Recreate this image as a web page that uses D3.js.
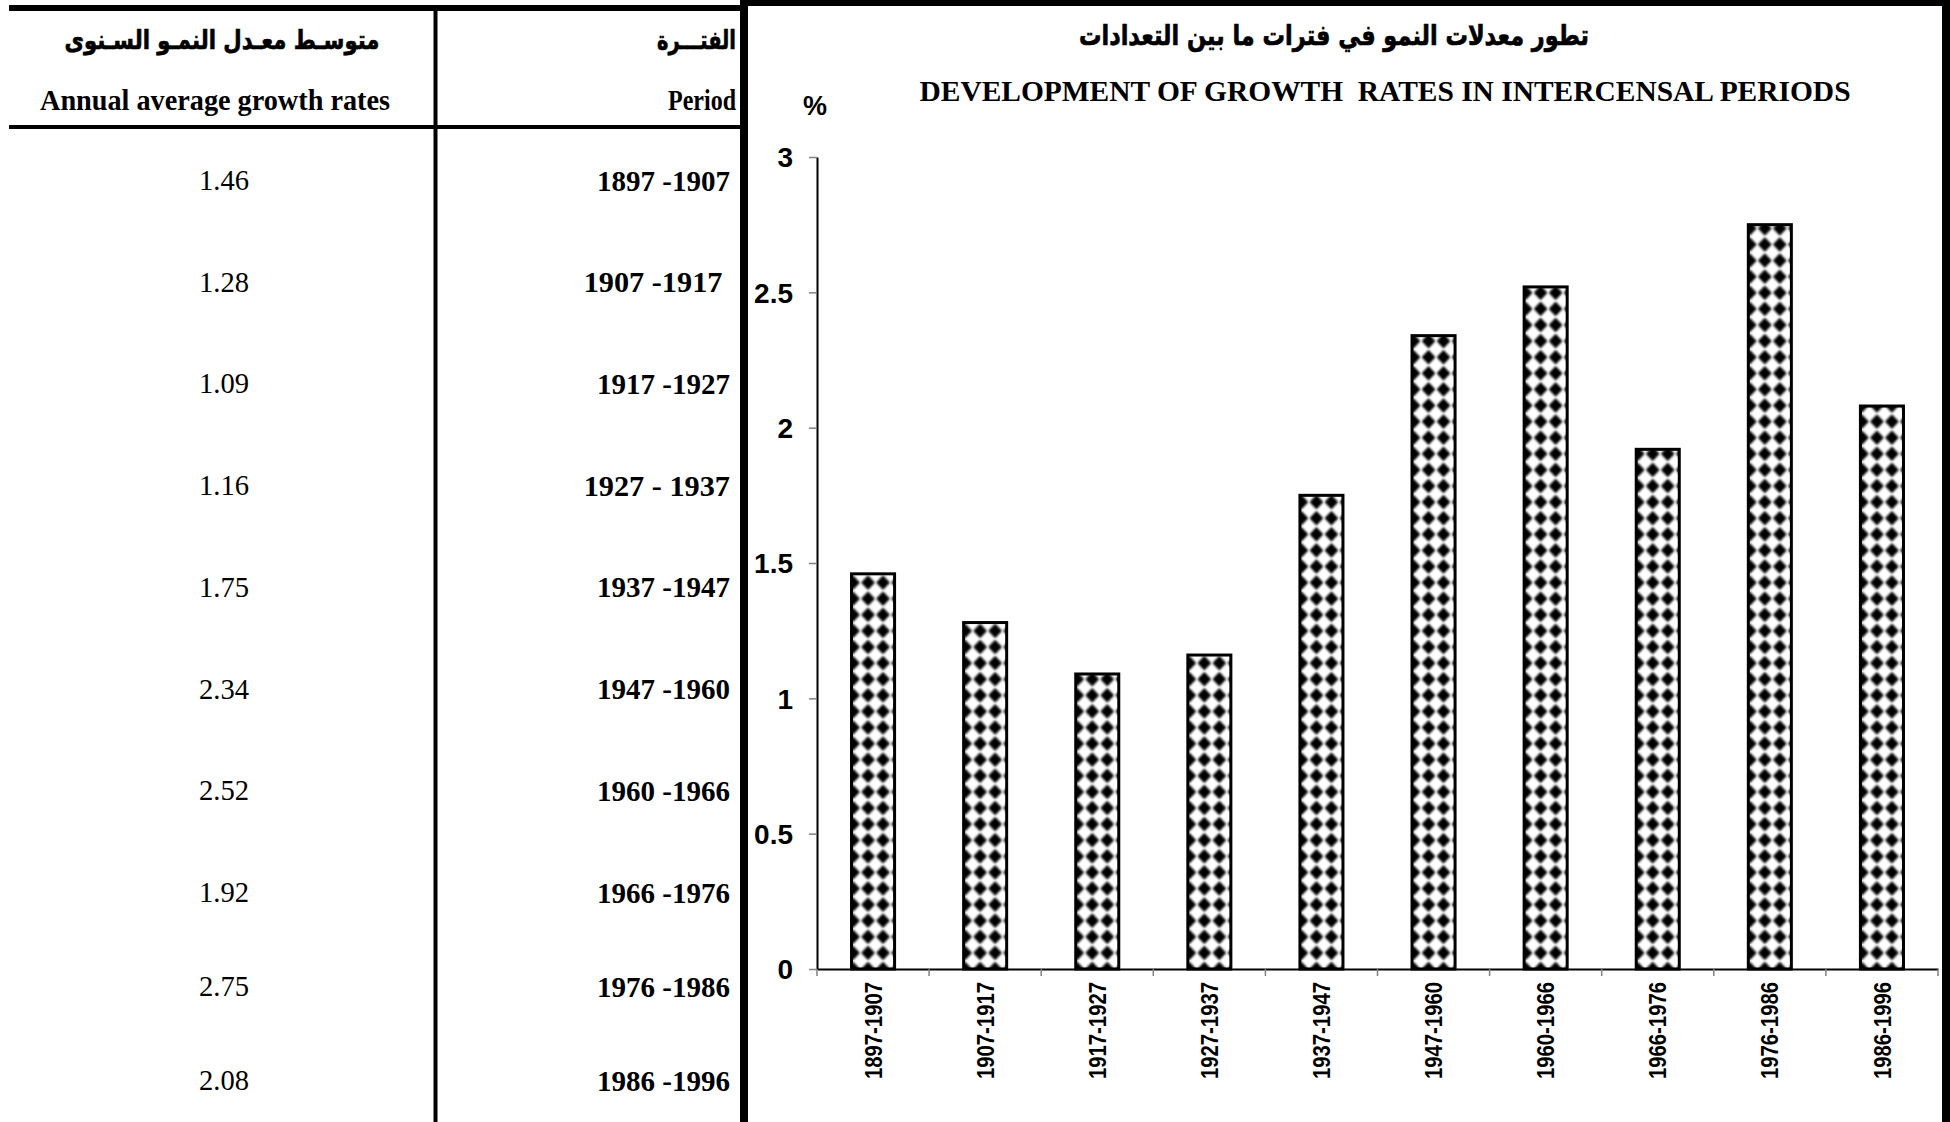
<!DOCTYPE html>
<html>
<head>
<meta charset="utf-8">
<script src="https://cdn.jsdelivr.net/npm/d3@7/dist/d3.min.js"></script>
<style>
  html, body { margin: 0; padding: 0; background: #fff; }
  svg { display: block; }
  .serif { font-family: 'Liberation Serif', 'Times New Roman', serif; }
  .sans { font-family: 'Liberation Sans', Arial, sans-serif; }
  .arabic { font-family: 'DejaVu Sans', sans-serif; font-weight: bold; stroke: #000; stroke-width: 0.7; }
</style>
</head>
<body>
<div id="chart"></div>
<script>
// chart data
const periods = ['1897-1907', '1907-1917', '1917-1927', '1927-1937', '1937-1947',
  '1947-1960', '1960-1966', '1966-1976', '1976-1986', '1986-1996'];
const rates = [1.46, 1.28, 1.09, 1.16, 1.75, 2.34, 2.52, 1.92, 2.75, 2.08];
const yTicks = [0, 0.5, 1, 1.5, 2, 2.5, 3];

// table column text (as written in the side table)
const tablePeriods = ['1897 -1907', '1907 -1917 ', '1917 -1927', '1927 - 1937', '1937 -1947',
  '1947 -1960', '1960 -1966', '1966 -1976', '1976 -1986', '1986 -1996'];
const tableRates = ['1.46', '1.28', '1.09', '1.16', '1.75', '2.34', '2.52', '1.92', '2.75', '2.08'];

const titleAr = 'تطور معدلات النمو في فترات ما بين التعدادات';
const titleEn = 'DEVELOPMENT OF GROWTH  RATES IN INTERCENSAL PERIODS';
const headRateAr = 'متوسـط معـدل النمـو السـنوى';
const headRateEn = 'Annual average growth rates';
const headPeriodAr = 'الفتـــرة';
const headPeriodEn = 'Period';
const yUnit = '%';

const width = 1950;
const height = 1122;

const svg = d3.select('#chart').append('svg')
  .attr('width', width)
  .attr('height', height)
  .attr('viewBox', `0 0 ${width} ${height}`);

// ---------- TABLE ----------
const table = svg.append('g').attr('class', 'table');

table.append('line').attr('x1', 9).attr('x2', 744).attr('y1', 8).attr('y2', 8)
  .attr('stroke', '#000').attr('stroke-width', 6);
table.append('line').attr('x1', 9).attr('x2', 744).attr('y1', 127).attr('y2', 127)
  .attr('stroke', '#000').attr('stroke-width', 4);
table.append('line').attr('x1', 435.5).attr('x2', 435.5).attr('y1', 5).attr('y2', height)
  .attr('stroke', '#000').attr('stroke-width', 4);

table.append('text').attr('class', 'arabic')
  .attr('x', 222).attr('y', 40).attr('text-anchor', 'middle').attr('dominant-baseline', 'central')
  .attr('font-size', 26).attr('textLength', 315).attr('lengthAdjust', 'spacingAndGlyphs')
  .text(headRateAr);
table.append('text').attr('class', 'serif')
  .attr('x', 215).attr('y', 99).attr('text-anchor', 'middle').attr('dominant-baseline', 'central')
  .attr('font-size', 30).attr('font-weight', 'bold')
  .attr('textLength', 350).attr('lengthAdjust', 'spacingAndGlyphs')
  .text(headRateEn);
table.append('text').attr('class', 'arabic')
  .attr('x', 736).attr('y', 40).attr('text-anchor', 'end').attr('dominant-baseline', 'central')
  .attr('font-size', 26).attr('textLength', 79).attr('lengthAdjust', 'spacingAndGlyphs')
  .text(headPeriodAr);
table.append('text').attr('class', 'serif')
  .attr('x', 736).attr('y', 99).attr('text-anchor', 'end').attr('dominant-baseline', 'central')
  .attr('font-size', 30).attr('font-weight', 'bold')
  .attr('textLength', 68).attr('lengthAdjust', 'spacingAndGlyphs')
  .text(headPeriodEn);

const rowY = d3.scaleLinear().domain([0, 7, 9]).range([180, 892, 1080]);

table.selectAll('.rate-cell').data(tableRates).enter().append('text')
  .attr('class', 'rate-cell serif')
  .attr('x', 224).attr('y', (d, i) => rowY(i))
  .attr('text-anchor', 'middle').attr('dominant-baseline', 'central')
  .attr('font-size', 29).attr('textLength', 50).attr('lengthAdjust', 'spacingAndGlyphs')
  .text(d => d);

table.selectAll('.period-cell').data(tablePeriods).enter().append('text')
  .attr('class', 'period-cell serif')
  .attr('x', 730).attr('y', (d, i) => rowY(i))
  .attr('text-anchor', 'end').attr('dominant-baseline', 'central')
  .attr('font-size', 30).attr('font-weight', 'bold')
  .attr('textLength', d => d.length * 13.3).attr('lengthAdjust', 'spacingAndGlyphs')
  .style('white-space', 'pre')
  .text(d => d);

// ---------- CHART ----------
const plot = {left: 817, right: 1938, top: 157, bottom: 969};

const x = d3.scaleBand().domain(periods).range([plot.left, plot.right])
  .paddingInner(0.616).paddingOuter(0.308);
const y = d3.scaleLinear().domain([0, 3]).range([plot.bottom, plot.top]);

const defs = svg.append('defs');
defs.append('filter').attr('id', 'soft')
  .attr('x', '-30%').attr('y', '-30%').attr('width', '160%').attr('height', '160%')
  .append('feGaussianBlur').attr('stdDeviation', 1.1);

// one sphere-like pattern per bar, anchored to bar's left edge and the baseline
const tileW = 15;
const tileH = 16.1;
const rx = 6.9;
const ry = 7.4;
const pats = defs.selectAll('pattern').data(periods).enter().append('pattern')
  .attr('id', (d, i) => `pat-${i}`)
  .attr('patternUnits', 'userSpaceOnUse')
  .attr('width', tileW).attr('height', tileH)
  .attr('x', d => x(d) + 1.5 - tileW / 2)
  .attr('y', plot.bottom - tileH / 2);
pats.append('rect').attr('width', tileW).attr('height', tileH).attr('fill', '#fff');
pats.append('path')
  .attr('d', `M${tileW / 2},${tileH / 2 - ry} L${tileW / 2 + rx},${tileH / 2} L${tileW / 2},${tileH / 2 + ry} L${tileW / 2 - rx},${tileH / 2} Z`)
  .attr('fill', '#000')
  .attr('filter', 'url(#soft)');

// title
svg.append('text').attr('class', 'arabic')
  .attr('x', 1334).attr('y', 35).attr('text-anchor', 'middle').attr('dominant-baseline', 'central')
  .attr('font-size', 28).attr('textLength', 510).attr('lengthAdjust', 'spacingAndGlyphs')
  .text(titleAr);
svg.append('text').attr('class', 'serif')
  .attr('x', 1385).attr('y', 90).attr('text-anchor', 'middle').attr('dominant-baseline', 'central')
  .attr('font-size', 30).attr('font-weight', 'bold')
  .attr('textLength', 931).attr('lengthAdjust', 'spacingAndGlyphs')
  .style('white-space', 'pre')
  .text(titleEn);
svg.append('text').attr('class', 'sans')
  .attr('x', 815).attr('y', 106).attr('text-anchor', 'middle').attr('dominant-baseline', 'central')
  .attr('font-size', 27).attr('font-weight', 'bold')
  .text(yUnit);

// bars
svg.selectAll('.bar').data(rates).enter().append('rect')
  .attr('class', 'bar')
  .attr('x', (d, i) => x(periods[i]))
  .attr('y', d => y(d))
  .attr('width', x.bandwidth())
  .attr('height', d => plot.bottom - y(d))
  .attr('fill', (d, i) => `url(#pat-${i})`)
  .attr('stroke', '#000')
  .attr('stroke-width', 3);

// y axis
const gy = svg.append('g').attr('transform', `translate(${plot.left},0)`)
  .call(d3.axisLeft(y).tickValues(yTicks).tickSize(8).tickSizeOuter(0).tickPadding(16).tickFormat(d => d));
gy.select('.domain').attr('stroke', '#000').attr('stroke-width', 2);
gy.selectAll('.tick line').attr('stroke', '#808080').attr('stroke-width', 1.5);
gy.selectAll('.tick text').attr('class', 'sans').attr('font-size', 28).attr('font-weight', 'bold')
  .attr('fill', '#000').attr('dy', '0.35em');

// x axis
const gx = svg.append('g').attr('transform', `translate(0,${plot.bottom})`)
  .call(d3.axisBottom(x).tickSize(0).tickSizeOuter(0));
gx.select('.domain').attr('stroke', '#000').attr('stroke-width', 2);
gx.selectAll('.tick text').attr('class', 'sans')
  .attr('font-size', 24).attr('font-weight', 'bold').attr('fill', '#000')
  .attr('textLength', 97).attr('lengthAdjust', 'spacingAndGlyphs')
  .attr('transform', 'rotate(-90)')
  .attr('text-anchor', 'end')
  .attr('x', -13).attr('y', 0).attr('dy', '0.36em');
gx.selectAll('.band-tick').data(d3.range(periods.length + 1)).enter().append('line')
  .attr('class', 'band-tick')
  .attr('x1', i => plot.left + i * x.step()).attr('x2', i => plot.left + i * x.step())
  .attr('y1', 0).attr('y2', 7)
  .attr('stroke', '#808080').attr('stroke-width', 1.5);

// chart frame
svg.append('line').attr('x1', 744).attr('x2', 744).attr('y1', 0).attr('y2', height)
  .attr('stroke', '#000').attr('stroke-width', 8);
svg.append('line').attr('x1', 740).attr('x2', width).attr('y1', 3).attr('y2', 3)
  .attr('stroke', '#000').attr('stroke-width', 6);
svg.append('line').attr('x1', 1946).attr('x2', 1946).attr('y1', 0).attr('y2', height)
  .attr('stroke', '#000').attr('stroke-width', 8);
</script>
</body>
</html>
